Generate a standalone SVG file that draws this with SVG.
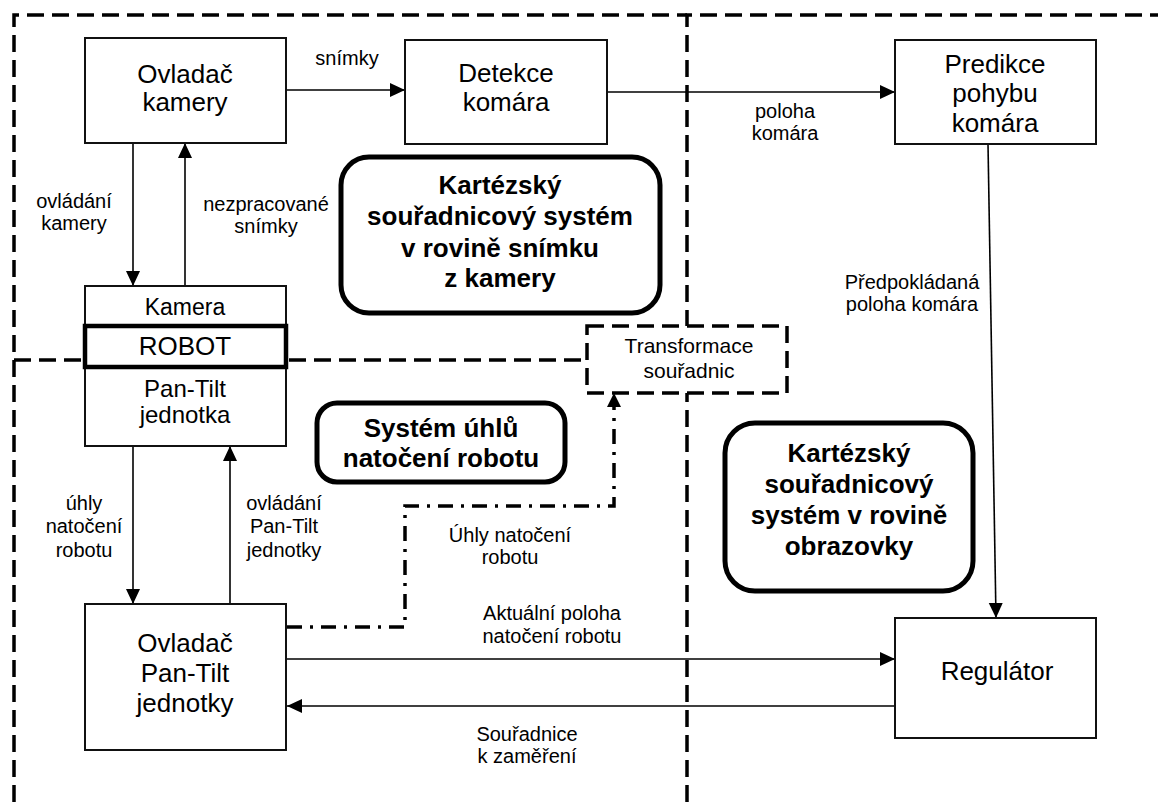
<svg xmlns="http://www.w3.org/2000/svg" width="1158" height="802" viewBox="0 0 1158 802">
<style>
  .box { fill: #fff; stroke: #111; stroke-width: 2; }
  .rbox { fill: #fff; stroke: #000; stroke-width: 5; }
  .region { fill: none; stroke: #000; stroke-width: 3.5; stroke-dasharray: 17 8; }
  .con { fill: none; stroke: #000; stroke-width: 1.6; }
  .dd { fill: none; stroke: #000; stroke-width: 3.5; stroke-dasharray: 15 8 3 8; }
  text { font-family: "Liberation Sans", Arial, sans-serif; fill: #000; text-anchor: middle; }
  .n { font-size: 26px; }
  .l { font-size: 20px; }
  .b { font-size: 26px; font-weight: bold; }
</style>
<defs>
  <marker id="ah" markerUnits="userSpaceOnUse" markerWidth="16" markerHeight="16" viewBox="0 0 16 16" refX="15" refY="8" orient="auto">
    <path d="M0,1 L15,8 L0,15 z" fill="#000"/>
  </marker>
</defs>
<rect width="1158" height="802" fill="#fff"/>

<g id="regions">
  <path class="region" d="M14,802 L14,15 L687,15"/>
  <path class="region" d="M687,802 L687,15 L1158,15"/>
  <path class="region" d="M14,360 L587,360"/>
</g>

<g id="connectors">
  <line class="con" x1="286" y1="90" x2="405" y2="90" marker-end="url(#ah)"/>
  <line class="con" x1="607" y1="92" x2="895" y2="92" marker-end="url(#ah)"/>
  <line class="con" x1="133" y1="143" x2="133" y2="286" marker-end="url(#ah)"/>
  <line class="con" x1="185" y1="286" x2="185" y2="143" marker-end="url(#ah)"/>
  <line class="con" x1="133" y1="446" x2="133" y2="604" marker-end="url(#ah)"/>
  <line class="con" x1="230" y1="604" x2="230" y2="446" marker-end="url(#ah)"/>
  <line class="con" x1="988" y1="144" x2="996" y2="618" marker-end="url(#ah)"/>
  <line class="con" x1="287" y1="659" x2="895" y2="659" marker-end="url(#ah)"/>
  <line class="con" x1="895" y1="706" x2="287" y2="706" marker-end="url(#ah)"/>
  <path class="dd" d="M287,627 L405,627 L405,506 L614,506 L614,406"/>
  <path d="M607,407 L614,393 L621,407 z" fill="#000"/>
  <text class="l" x="347" y="65">snímky</text>
  <text class="l" x="785" y="118">poloha</text>
  <text class="l" x="785" y="140">komára</text>
  <text class="l" x="74" y="208">ovládání</text>
  <text class="l" x="74" y="230">kamery</text>
  <text class="l" x="266" y="211">nezpracované</text>
  <text class="l" x="266" y="233">snímky</text>
  <text class="l" x="912" y="289">Předpokládaná</text>
  <text class="l" x="912" y="311">poloha komára</text>
  <text class="l" x="84" y="510">úhly</text>
  <text class="l" x="84" y="533">natočení</text>
  <text class="l" x="84" y="557">robotu</text>
  <text class="l" x="284" y="510">ovládání</text>
  <text class="l" x="284" y="533">Pan-Tilt</text>
  <text class="l" x="284" y="557">jednotky</text>
  <text class="l" x="510" y="542">Úhly natočení</text>
  <text class="l" x="510" y="564">robotu</text>
  <text class="l" x="552" y="620">Aktuální poloha</text>
  <text class="l" x="552" y="643">natočení robotu</text>
  <text class="l" x="527" y="741">Souřadnice</text>
  <text class="l" x="527" y="763">k zaměření</text>
</g>

<g id="transformace">
  <rect x="587" y="326" width="200" height="67" fill="#fff" stroke="#000" stroke-width="3.5" stroke-dasharray="17 8"/>
  <text x="689" y="353" style="font-size:21px">Transformace</text>
  <text x="689" y="378" style="font-size:21px">souřadnic</text>
</g>

<g id="ovladac-kamery">
  <rect class="box" x="85" y="38" width="201" height="105"/>
  <text class="n" x="185" y="83">Ovladač</text>
  <text class="n" x="185" y="111">kamery</text>
</g>

<g id="detekce">
  <rect class="box" x="405" y="40" width="202" height="104"/>
  <text class="n" x="506" y="82">Detekce</text>
  <text class="n" x="506" y="111">komára</text>
</g>

<g id="predikce">
  <rect class="box" x="895" y="40" width="201" height="104"/>
  <text class="n" x="995" y="73">Predikce</text>
  <text class="n" x="995" y="102">pohybu</text>
  <text class="n" x="995" y="132">komára</text>
</g>

<g id="robot">
  <rect class="box" x="85" y="286" width="201" height="160"/>
  <rect x="85" y="326" width="201" height="41" fill="#fff" stroke="#000" stroke-width="4.5"/>
  <text x="185" y="315" style="font-size:23px">Kamera</text>
  <text x="185" y="355" style="font-size:26px">ROBOT</text>
  <text x="185" y="397" style="font-size:24px">Pan-Tilt</text>
  <text x="185" y="423" style="font-size:24px">jednotka</text>
</g>

<g id="ovladac-pantilt">
  <rect class="box" x="85" y="604" width="201" height="146"/>
  <text class="n" x="185" y="652">Ovladač</text>
  <text class="n" x="185" y="682">Pan-Tilt</text>
  <text class="n" x="185" y="712">jednotky</text>
</g>

<g id="regulator">
  <rect class="box" x="895" y="618" width="201" height="120"/>
  <text class="n" x="997" y="680">Regulátor</text>
</g>

<g id="system-snimek">
  <rect class="rbox" x="341" y="157" width="319" height="156" rx="28"/>
  <text class="b" x="500" y="194">Kartézský</text>
  <text class="b" x="500" y="225">souřadnicový systém</text>
  <text class="b" x="500" y="257">v rovině snímku</text>
  <text class="b" x="500" y="287">z kamery</text>
</g>

<g id="system-uhlu">
  <rect class="rbox" x="317" y="403" width="248" height="79" rx="20"/>
  <text class="b" x="441" y="437">Systém úhlů</text>
  <text class="b" x="441" y="467">natočení robotu</text>
</g>

<g id="system-obrazovka">
  <rect class="rbox" x="725" y="423" width="248" height="168" rx="30"/>
  <text class="b" x="849" y="462">Kartézský</text>
  <text class="b" x="849" y="493">souřadnicový</text>
  <text class="b" x="849" y="524">systém v rovině</text>
  <text class="b" x="849" y="555">obrazovky</text>
</g>
</svg>
